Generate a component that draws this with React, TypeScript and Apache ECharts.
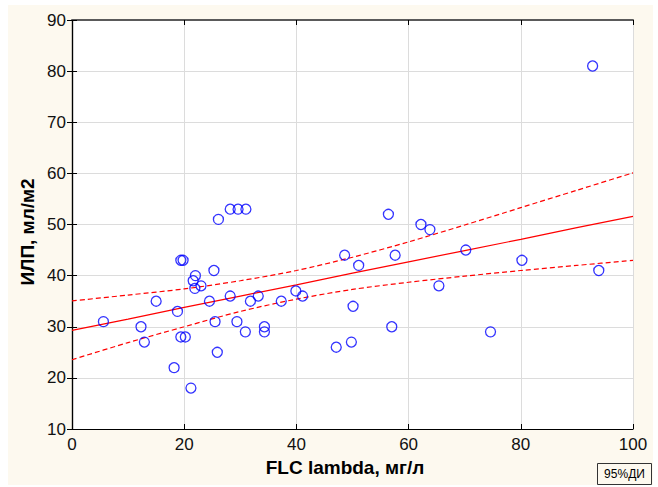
import React, { useEffect, useRef } from "react";
import * as echarts from "echarts";

const pointX = [5.6, 12.3, 12.9, 15.0, 18.2, 18.8, 19.4, 20.2, 19.4, 19.8, 21.2, 21.6, 21.9, 22.0, 23.0, 24.5, 25.3, 25.5, 25.9, 26.1, 28.2, 29.6, 31.0, 28.2, 29.4, 30.9, 31.8, 33.2, 34.3, 34.3, 37.3, 39.9, 41.1, 47.1, 48.6, 49.8, 50.1, 51.1, 56.4, 57.0, 57.6, 62.2, 63.8, 65.4, 70.2, 74.6, 80.2, 92.8, 93.9];
const pointY = [31, 30, 27, 35, 22, 33, 28, 28, 43, 43, 18, 39, 37.5, 40, 38, 35, 41, 31, 25, 51, 53, 53, 53, 36, 31, 29, 35, 36, 30, 29, 35, 37, 36, 26, 44, 27, 34, 42, 52, 30, 44, 50, 49, 38, 45, 29, 43, 81, 41];

const lineX = [0, 10, 20, 30, 40, 50, 60, 70, 80, 90, 100];
const fitY = [29.3, 31.5, 33.8, 36.0, 38.2, 40.5, 42.7, 44.9, 47.1, 49.4, 51.6];
const upperY = [35.05, 36.2, 37.4, 39.0, 41.0, 43.6, 46.6, 49.9, 53.3, 56.7, 60.1];
const lowerY = [23.55, 26.9, 30.0, 33.0, 35.4, 37.3, 38.7, 39.9, 41.0, 42.0, 43.0];

const xTitle = "FLC lambda, мг/л";
const yTitle = "ИЛП, мл/м2";
const ciLabel = "95%ДИ";

const FONT = "'Liberation Sans', Arial, sans-serif";

export default function App() {
  const ref = useRef<HTMLDivElement>(null);
  useEffect(() => {
    if (!ref.current) return;
    const chart = echarts.init(ref.current, undefined, { renderer: "svg" });
    const pts = pointX.map((x, i) => [x, pointY[i]]);
    const mk = (ys: number[]) => lineX.map((x, i) => [x, ys[i]]);
    const lineCommon = {
      type: "line" as const,
      showSymbol: false,
      symbol: "none",
      smooth: 0.3,
      silent: true,
    };
    chart.setOption({
      animation: false,
      backgroundColor: "#fdf9ef",
      textStyle: { fontFamily: FONT },
      grid: {
        left: 64,
        right: 20,
        top: 15,
        bottom: 56,
        show: true,
        backgroundColor: "#ffffff",
        borderWidth: 0,
      },
      xAxis: [
        {
          type: "value",
          min: 0,
          max: 100,
          interval: 20,
          position: "bottom",
          axisLine: { show: true, lineStyle: { color: "#000", width: 1.2 } },
          axisTick: { show: true, inside: true, length: 5, lineStyle: { color: "#000" } },
          axisLabel: { fontSize: 17, color: "#111", margin: 7, fontFamily: FONT },
          splitLine: { show: true, lineStyle: { color: "#dcdcdc", width: 1 } },
        },
        {
          type: "value",
          min: 0,
          max: 100,
          interval: 20,
          position: "top",
          axisLine: { show: true, lineStyle: { color: "#5a5a5a", width: 2 } },
          axisTick: { show: true, inside: true, length: 5, lineStyle: { color: "#000" } },
          axisLabel: { show: false },
          splitLine: { show: false },
        },
      ],
      yAxis: [
        {
          type: "value",
          min: 10,
          max: 90,
          interval: 10,
          position: "left",
          axisLine: { show: true, lineStyle: { color: "#000", width: 1.2 } },
          axisTick: { show: true, inside: true, length: 5, lineStyle: { color: "#000" } },
          axisLabel: { fontSize: 17, color: "#111", margin: 6, fontFamily: FONT },
          splitLine: { show: true, lineStyle: { color: "#dcdcdc", width: 1 } },
        },
        {
          type: "value",
          min: 10,
          max: 90,
          interval: 10,
          position: "right",
          axisLine: { show: true, lineStyle: { color: "#000", width: 1.2 } },
          axisTick: { show: true, inside: true, length: 5, lineStyle: { color: "#000" } },
          axisLabel: { show: false },
          splitLine: { show: false },
        },
      ],
      series: [
        {
          ...lineCommon,
          name: "upper",
          data: mk(upperY),
          lineStyle: { color: "#ff0000", width: 1.2, type: [5, 3] },
        },
        {
          ...lineCommon,
          name: "lower",
          data: mk(lowerY),
          lineStyle: { color: "#ff0000", width: 1.2, type: [5, 3] },
        },
        {
          ...lineCommon,
          name: "fit",
          smooth: false,
          data: mk(fitY),
          lineStyle: { color: "#ff0000", width: 1.2 },
        },
        {
          type: "scatter",
          name: "points",
          data: pts,
          symbol: "circle",
          symbolSize: 10,
          itemStyle: { color: "rgba(255,255,255,0)", borderColor: "#0000ff", borderWidth: 1.3 },
          z: 5,
        },
      ],
      graphic: [
        {
          type: "text",
          x: 337,
          y: 462,
          style: {
            text: xTitle,
            fontSize: 19,
            fontWeight: "bold",
            fontFamily: FONT,
            fill: "#000",
            textAlign: "center",
            textVerticalAlign: "middle",
          },
        },
        {
          type: "text",
          x: 19,
          y: 227,
          rotation: Math.PI / 2,
          style: {
            text: yTitle,
            fontSize: 19,
            fontWeight: "bold",
            fontFamily: FONT,
            fill: "#000",
            textAlign: "center",
            textVerticalAlign: "middle",
          },
        },
        {
          type: "rect",
          shape: { x: 589.5, y: 458.5, width: 54, height: 21 },
          style: { fill: "#fdf9ef", stroke: "#333", lineWidth: 1 },
        },
        {
          type: "text",
          x: 616.5,
          y: 469,
          style: {
            text: ciLabel,
            fontSize: 12,
            fontFamily: FONT,
            fill: "#000",
            textAlign: "center",
            textVerticalAlign: "middle",
          },
        },
      ],
    });
    return () => chart.dispose();
  }, []);
  return (
    <div
      ref={ref}
      style={{ position: "absolute", left: 8, top: 5, width: 645, height: 480 }}
    />
  );
}
